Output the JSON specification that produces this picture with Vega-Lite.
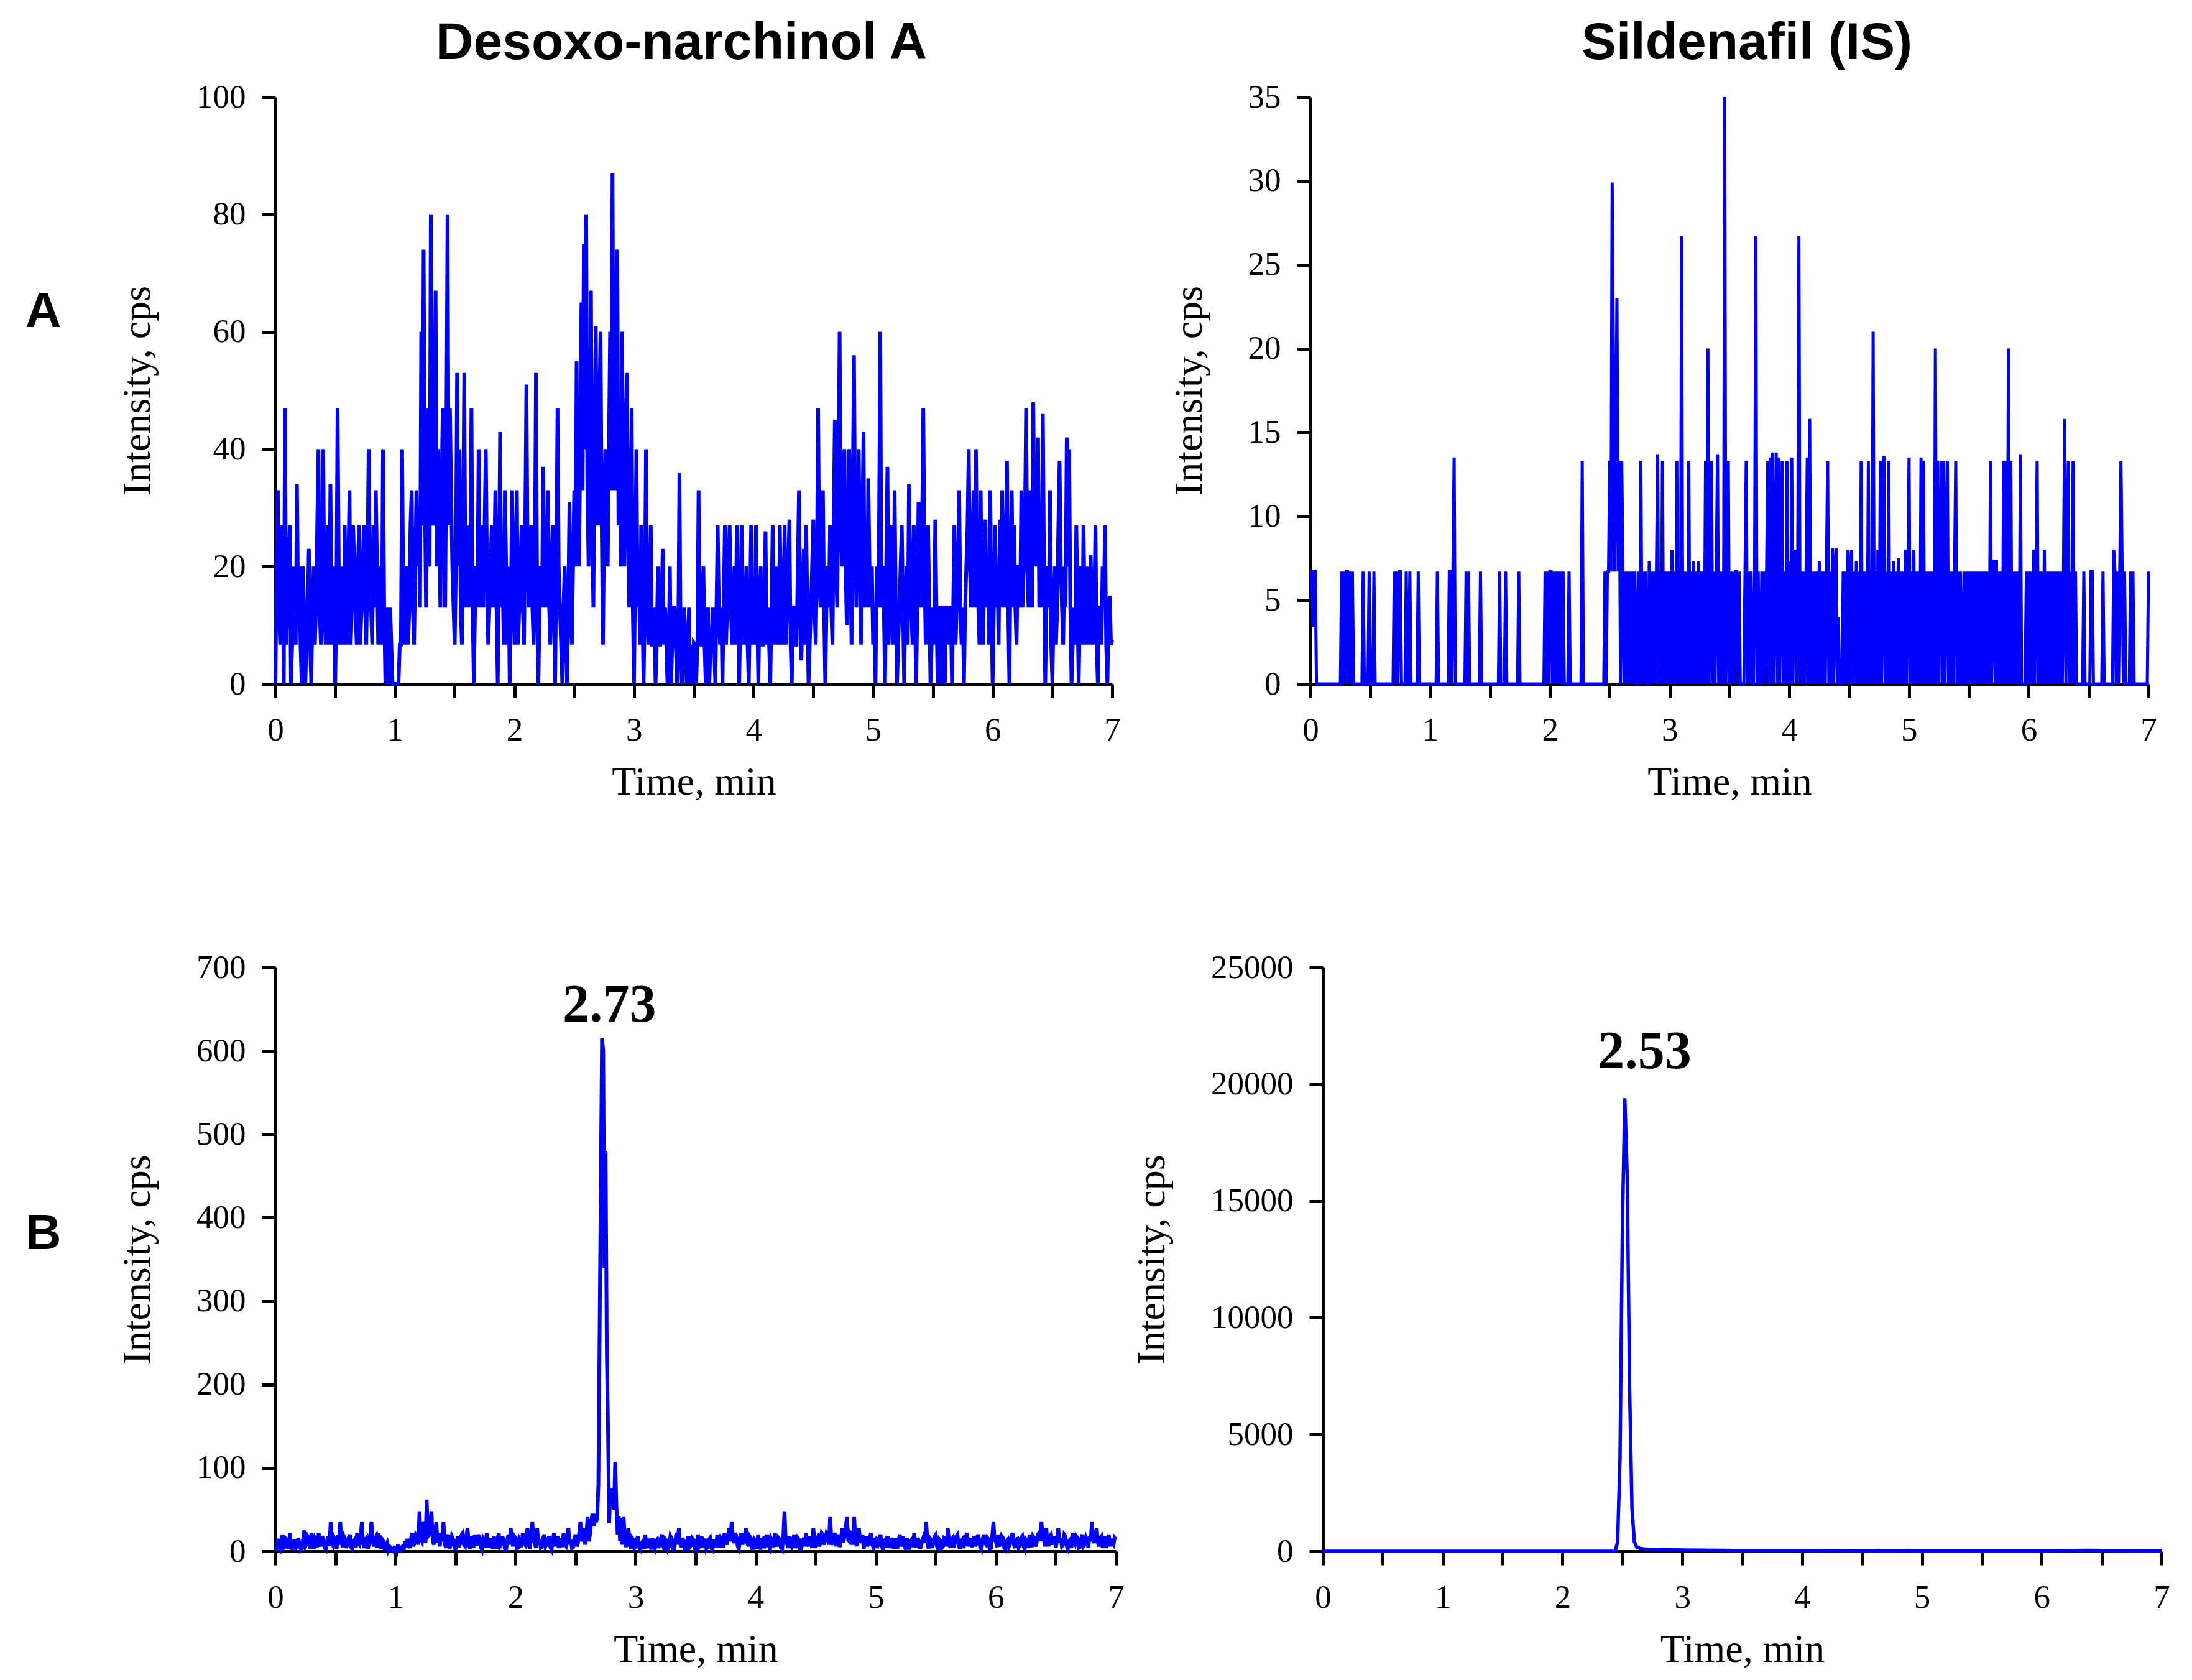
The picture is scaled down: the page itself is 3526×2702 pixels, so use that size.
{
  "$schema": "https://vega.github.io/schema/vega-lite/v6.json",
  "background": "white",
  "padding": {"left": 40, "top": 28, "right": 10, "bottom": 10},
  "config": {
    "view": {"stroke": null},
    "axis": {
      "grid": false,
      "domainColor": "black",
      "domainWidth": 5,
      "tickColor": "black",
      "tickWidth": 5,
      "tickSize": 22,
      "labelFont": "Liberation Serif",
      "labelFontSize": 53,
      "labelColor": "black",
      "labelFlush": false,
      "labelOverlap": false,
      "titleFont": "Liberation Serif",
      "titleFontSize": 64,
      "titleFontWeight": "normal",
      "titleColor": "black"
    },
    "axisX": {"labelPadding": 26, "titlePadding": 25, "labelAngle": 0, "format": "d"},
    "axisY": {"labelPadding": 26, "titlePadding": 62},
    "title": {"font": "Liberation Sans", "fontWeight": "bold", "fontSize": 84, "color": "black", "offset": 17}
  },
  "datasets": {
    "a1": [
      {"t":0,"y":0},{"t":0.01,"y":20},{"t":0.02,"y":33},{"t":0.03,"y":13},{"t":0.04,"y":6.7},{"t":0.05,"y":27},{"t":0.06,"y":20},{"t":0.07,"y":0},{"t":0.08,"y":47},{"t":0.09,"y":6.7},
      {"t":0.1,"y":13},{"t":0.11,"y":20},{"t":0.12,"y":27},{"t":0.13,"y":0},{"t":0.14,"y":6.7},{"t":0.15,"y":20},{"t":0.16,"y":13},{"t":0.17,"y":6.7},{"t":0.18,"y":34},{"t":0.19,"y":13},
      {"t":0.2,"y":20},{"t":0.21,"y":6.7},{"t":0.22,"y":0},{"t":0.23,"y":20},{"t":0.24,"y":13},{"t":0.25,"y":0},{"t":0.26,"y":6.7},{"t":0.27,"y":13},{"t":0.28,"y":23},{"t":0.29,"y":6.7},
      {"t":0.3,"y":0},{"t":0.31,"y":13},{"t":0.32,"y":20},{"t":0.33,"y":6.7},{"t":0.34,"y":13},{"t":0.35,"y":27},{"t":0.36,"y":40},{"t":0.37,"y":13},{"t":0.38,"y":6.7},{"t":0.39,"y":20},
      {"t":0.4,"y":40},{"t":0.41,"y":13},{"t":0.42,"y":6.7},{"t":0.43,"y":20},{"t":0.44,"y":27},{"t":0.45,"y":6.7},{"t":0.46,"y":34},{"t":0.47,"y":13},{"t":0.48,"y":6.7},{"t":0.49,"y":20},
      {"t":0.5,"y":0},{"t":0.51,"y":13},{"t":0.52,"y":47},{"t":0.53,"y":20},{"t":0.54,"y":6.7},{"t":0.55,"y":13},{"t":0.56,"y":20},{"t":0.57,"y":6.7},{"t":0.58,"y":27},{"t":0.59,"y":13},
      {"t":0.6,"y":6.7},{"t":0.61,"y":20},{"t":0.62,"y":33},{"t":0.63,"y":6.7},{"t":0.64,"y":13},{"t":0.65,"y":27},{"t":0.66,"y":20},{"t":0.67,"y":13},{"t":0.68,"y":6.7},{"t":0.69,"y":20},
      {"t":0.7,"y":27},{"t":0.71,"y":6.7},{"t":0.72,"y":13},{"t":0.73,"y":20},{"t":0.74,"y":27},{"t":0.75,"y":13},{"t":0.76,"y":6.7},{"t":0.77,"y":20},{"t":0.78,"y":40},{"t":0.79,"y":20},
      {"t":0.8,"y":13},{"t":0.81,"y":6.7},{"t":0.82,"y":27},{"t":0.83,"y":13},{"t":0.84,"y":33},{"t":0.85,"y":20},{"t":0.86,"y":6.7},{"t":0.87,"y":13},{"t":0.88,"y":20},{"t":0.89,"y":6.7},
      {"t":0.9,"y":40},{"t":0.91,"y":13},{"t":0.92,"y":0},{"t":0.93,"y":6.7},{"t":0.94,"y":13},{"t":0.95,"y":0},{"t":0.96,"y":13},{"t":0.97,"y":6.7},{"t":0.98,"y":0},{"t":0.99,"y":0},
      {"t":1,"y":0},{"t":1.01,"y":0},{"t":1.02,"y":0},{"t":1.03,"y":0},{"t":1.04,"y":6.7},{"t":1.05,"y":6.7},{"t":1.06,"y":40},{"t":1.07,"y":13},{"t":1.08,"y":6.7},{"t":1.09,"y":13},
      {"t":1.1,"y":20},{"t":1.11,"y":6.7},{"t":1.12,"y":13},{"t":1.13,"y":27},{"t":1.14,"y":33},{"t":1.15,"y":13},{"t":1.16,"y":6.7},{"t":1.17,"y":20},{"t":1.18,"y":33},{"t":1.19,"y":20},
      {"t":1.2,"y":27},{"t":1.21,"y":13},{"t":1.22,"y":60},{"t":1.23,"y":27},{"t":1.24,"y":74},{"t":1.25,"y":33},{"t":1.26,"y":13},{"t":1.27,"y":27},{"t":1.28,"y":47},{"t":1.29,"y":20},
      {"t":1.3,"y":80},{"t":1.31,"y":40},{"t":1.32,"y":27},{"t":1.33,"y":47},{"t":1.34,"y":67},{"t":1.35,"y":20},{"t":1.36,"y":40},{"t":1.37,"y":27},{"t":1.38,"y":13},{"t":1.39,"y":33},
      {"t":1.4,"y":47},{"t":1.41,"y":27},{"t":1.42,"y":13},{"t":1.43,"y":40},{"t":1.44,"y":80},{"t":1.45,"y":27},{"t":1.46,"y":47},{"t":1.47,"y":33},{"t":1.48,"y":20},{"t":1.49,"y":13},
      {"t":1.5,"y":6.7},{"t":1.51,"y":20},{"t":1.52,"y":53},{"t":1.53,"y":20},{"t":1.54,"y":40},{"t":1.55,"y":13},{"t":1.56,"y":6.7},{"t":1.57,"y":27},{"t":1.58,"y":53},{"t":1.59,"y":13},
      {"t":1.6,"y":27},{"t":1.61,"y":20},{"t":1.62,"y":13},{"t":1.63,"y":20},{"t":1.64,"y":47},{"t":1.65,"y":13},{"t":1.66,"y":0},{"t":1.67,"y":13},{"t":1.68,"y":20},{"t":1.69,"y":13},
      {"t":1.7,"y":40},{"t":1.71,"y":13},{"t":1.72,"y":27},{"t":1.73,"y":20},{"t":1.74,"y":13},{"t":1.75,"y":27},{"t":1.76,"y":40},{"t":1.77,"y":20},{"t":1.78,"y":6.7},{"t":1.79,"y":13},
      {"t":1.8,"y":20},{"t":1.81,"y":27},{"t":1.82,"y":13},{"t":1.83,"y":20},{"t":1.84,"y":33},{"t":1.85,"y":13},{"t":1.86,"y":0},{"t":1.87,"y":20},{"t":1.88,"y":43},{"t":1.89,"y":13},
      {"t":1.9,"y":20},{"t":1.91,"y":6.7},{"t":1.92,"y":33},{"t":1.93,"y":20},{"t":1.94,"y":6.7},{"t":1.95,"y":20},{"t":1.96,"y":0},{"t":1.97,"y":13},{"t":1.98,"y":33},{"t":1.99,"y":20},
      {"t":2,"y":6.7},{"t":2.01,"y":20},{"t":2.02,"y":33},{"t":2.03,"y":6.7},{"t":2.04,"y":13},{"t":2.05,"y":20},{"t":2.06,"y":27},{"t":2.07,"y":13},{"t":2.08,"y":6.7},{"t":2.09,"y":27},
      {"t":2.1,"y":51},{"t":2.11,"y":20},{"t":2.12,"y":13},{"t":2.13,"y":20},{"t":2.14,"y":27},{"t":2.15,"y":13},{"t":2.16,"y":6.7},{"t":2.17,"y":20},{"t":2.18,"y":53},{"t":2.19,"y":13},
      {"t":2.2,"y":0},{"t":2.21,"y":13},{"t":2.22,"y":20},{"t":2.23,"y":13},{"t":2.24,"y":37},{"t":2.25,"y":20},{"t":2.26,"y":13},{"t":2.27,"y":20},{"t":2.28,"y":33},{"t":2.29,"y":13},
      {"t":2.3,"y":6.7},{"t":2.31,"y":20},{"t":2.32,"y":27},{"t":2.33,"y":13},{"t":2.34,"y":0},{"t":2.35,"y":20},{"t":2.36,"y":47},{"t":2.37,"y":20},{"t":2.38,"y":13},{"t":2.39,"y":6.7},
      {"t":2.4,"y":0},{"t":2.41,"y":13},{"t":2.42,"y":20},{"t":2.43,"y":6.7},{"t":2.44,"y":0},{"t":2.45,"y":13},{"t":2.46,"y":31},{"t":2.47,"y":13},{"t":2.48,"y":6.7},{"t":2.49,"y":20},
      {"t":2.5,"y":33},{"t":2.51,"y":20},{"t":2.52,"y":55},{"t":2.53,"y":27},{"t":2.54,"y":20},{"t":2.55,"y":40},{"t":2.56,"y":65},{"t":2.57,"y":33},{"t":2.58,"y":75},{"t":2.59,"y":40},
      {"t":2.6,"y":80},{"t":2.61,"y":33},{"t":2.62,"y":20},{"t":2.63,"y":40},{"t":2.64,"y":67},{"t":2.65,"y":27},{"t":2.66,"y":13},{"t":2.67,"y":40},{"t":2.68,"y":61},{"t":2.69,"y":33},
      {"t":2.7,"y":27},{"t":2.71,"y":47},{"t":2.72,"y":60},{"t":2.73,"y":27},{"t":2.74,"y":6.7},{"t":2.75,"y":27},{"t":2.76,"y":40},{"t":2.77,"y":33},{"t":2.78,"y":20},{"t":2.79,"y":40},
      {"t":2.8,"y":60},{"t":2.81,"y":33},{"t":2.82,"y":87},{"t":2.83,"y":40},{"t":2.84,"y":33},{"t":2.85,"y":53},{"t":2.86,"y":74},{"t":2.87,"y":27},{"t":2.88,"y":40},{"t":2.89,"y":20},
      {"t":2.9,"y":60},{"t":2.91,"y":33},{"t":2.92,"y":20},{"t":2.93,"y":40},{"t":2.94,"y":53},{"t":2.95,"y":27},{"t":2.96,"y":13},{"t":2.97,"y":27},{"t":2.98,"y":47},{"t":2.99,"y":13},
      {"t":3,"y":0},{"t":3.01,"y":20},{"t":3.02,"y":40},{"t":3.03,"y":13},{"t":3.04,"y":20},{"t":3.05,"y":6.7},{"t":3.06,"y":27},{"t":3.07,"y":13},{"t":3.08,"y":0},{"t":3.09,"y":13},
      {"t":3.1,"y":40},{"t":3.11,"y":13},{"t":3.12,"y":6.7},{"t":3.13,"y":13},{"t":3.14,"y":27},{"t":3.15,"y":6.7},{"t":3.16,"y":6.7},{"t":3.17,"y":13},{"t":3.18,"y":0},{"t":3.19,"y":6.7},
      {"t":3.2,"y":20},{"t":3.21,"y":6.7},{"t":3.22,"y":6.7},{"t":3.23,"y":13},{"t":3.24,"y":23},{"t":3.25,"y":6.7},{"t":3.26,"y":13},{"t":3.27,"y":6.7},{"t":3.28,"y":0},{"t":3.29,"y":6.7},
      {"t":3.3,"y":20},{"t":3.31,"y":0},{"t":3.32,"y":6.7},{"t":3.33,"y":13},{"t":3.34,"y":13},{"t":3.35,"y":6.7},{"t":3.36,"y":0},{"t":3.37,"y":6.7},{"t":3.38,"y":36},{"t":3.39,"y":6.7},
      {"t":3.4,"y":0},{"t":3.41,"y":6.7},{"t":3.42,"y":13},{"t":3.43,"y":6.7},{"t":3.44,"y":0},{"t":3.45,"y":6.7},{"t":3.46,"y":13},{"t":3.47,"y":0},{"t":3.48,"y":6.7},{"t":3.49,"y":0},
      {"t":3.5,"y":7},{"t":3.51,"y":6.7},{"t":3.52,"y":0},{"t":3.53,"y":6.7},{"t":3.54,"y":33},{"t":3.55,"y":6.7},{"t":3.56,"y":6.7},{"t":3.57,"y":13},{"t":3.58,"y":20},{"t":3.59,"y":6.7},
      {"t":3.6,"y":0},{"t":3.61,"y":6.7},{"t":3.62,"y":13},{"t":3.63,"y":0},{"t":3.64,"y":6.7},{"t":3.65,"y":6.7},{"t":3.66,"y":13},{"t":3.67,"y":6.7},{"t":3.68,"y":0},{"t":3.69,"y":13},
      {"t":3.7,"y":27},{"t":3.71,"y":13},{"t":3.72,"y":6.7},{"t":3.73,"y":13},{"t":3.74,"y":0},{"t":3.75,"y":13},{"t":3.76,"y":27},{"t":3.77,"y":6.7},{"t":3.78,"y":13},{"t":3.79,"y":20},
      {"t":3.8,"y":27},{"t":3.81,"y":13},{"t":3.82,"y":6.7},{"t":3.83,"y":13},{"t":3.84,"y":20},{"t":3.85,"y":6.7},{"t":3.86,"y":27},{"t":3.87,"y":13},{"t":3.88,"y":0},{"t":3.89,"y":13},
      {"t":3.9,"y":27},{"t":3.91,"y":13},{"t":3.92,"y":6.7},{"t":3.93,"y":13},{"t":3.94,"y":20},{"t":3.95,"y":6.7},{"t":3.96,"y":0},{"t":3.97,"y":13},{"t":3.98,"y":27},{"t":3.99,"y":6.7},
      {"t":4,"y":13},{"t":4.01,"y":6.7},{"t":4.02,"y":27},{"t":4.03,"y":13},{"t":4.04,"y":0},{"t":4.05,"y":13},{"t":4.06,"y":20},{"t":4.07,"y":6.7},{"t":4.08,"y":6.7},{"t":4.09,"y":13},
      {"t":4.1,"y":26},{"t":4.11,"y":6.7},{"t":4.12,"y":13},{"t":4.13,"y":6.7},{"t":4.14,"y":0},{"t":4.15,"y":13},{"t":4.16,"y":27},{"t":4.17,"y":13},{"t":4.18,"y":6.7},{"t":4.19,"y":20},
      {"t":4.2,"y":13},{"t":4.21,"y":6.7},{"t":4.22,"y":27},{"t":4.23,"y":13},{"t":4.24,"y":6.7},{"t":4.25,"y":13},{"t":4.26,"y":27},{"t":4.27,"y":6.7},{"t":4.28,"y":13},{"t":4.29,"y":20},
      {"t":4.3,"y":28},{"t":4.31,"y":6.7},{"t":4.32,"y":0},{"t":4.33,"y":13},{"t":4.34,"y":13},{"t":4.35,"y":6.7},{"t":4.36,"y":6.7},{"t":4.37,"y":20},{"t":4.38,"y":33},{"t":4.39,"y":13},
      {"t":4.4,"y":4},{"t":4.41,"y":13},{"t":4.42,"y":23},{"t":4.43,"y":6.7},{"t":4.44,"y":27},{"t":4.45,"y":13},{"t":4.46,"y":0},{"t":4.47,"y":6.7},{"t":4.48,"y":13},{"t":4.49,"y":20},
      {"t":4.5,"y":28},{"t":4.51,"y":13},{"t":4.52,"y":6.7},{"t":4.53,"y":20},{"t":4.54,"y":47},{"t":4.55,"y":20},{"t":4.56,"y":13},{"t":4.57,"y":20},{"t":4.58,"y":33},{"t":4.59,"y":13},
      {"t":4.6,"y":0},{"t":4.61,"y":13},{"t":4.62,"y":20},{"t":4.63,"y":13},{"t":4.64,"y":27},{"t":4.65,"y":13},{"t":4.66,"y":6.7},{"t":4.67,"y":27},{"t":4.68,"y":45},{"t":4.69,"y":20},
      {"t":4.7,"y":13},{"t":4.71,"y":33},{"t":4.72,"y":60},{"t":4.73,"y":27},{"t":4.74,"y":20},{"t":4.75,"y":33},{"t":4.76,"y":40},{"t":4.77,"y":20},{"t":4.78,"y":10},{"t":4.79,"y":27},
      {"t":4.8,"y":40},{"t":4.81,"y":20},{"t":4.82,"y":6.7},{"t":4.83,"y":33},{"t":4.84,"y":56},{"t":4.85,"y":27},{"t":4.86,"y":13},{"t":4.87,"y":27},{"t":4.88,"y":40},{"t":4.89,"y":20},
      {"t":4.9,"y":6.7},{"t":4.91,"y":27},{"t":4.92,"y":43},{"t":4.93,"y":13},{"t":4.94,"y":20},{"t":4.95,"y":13},{"t":4.96,"y":35},{"t":4.97,"y":20},{"t":4.98,"y":13},{"t":4.99,"y":20},
      {"t":5,"y":6.7},{"t":5.01,"y":13},{"t":5.02,"y":0},{"t":5.03,"y":20},{"t":5.04,"y":13},{"t":5.05,"y":27},{"t":5.06,"y":60},{"t":5.07,"y":13},{"t":5.08,"y":20},{"t":5.09,"y":13},
      {"t":5.1,"y":0},{"t":5.11,"y":20},{"t":5.12,"y":37},{"t":5.13,"y":6.7},{"t":5.14,"y":13},{"t":5.15,"y":27},{"t":5.16,"y":20},{"t":5.17,"y":6.7},{"t":5.18,"y":33},{"t":5.19,"y":13},
      {"t":5.2,"y":0},{"t":5.21,"y":6.7},{"t":5.22,"y":13},{"t":5.23,"y":20},{"t":5.24,"y":27},{"t":5.25,"y":13},{"t":5.26,"y":0},{"t":5.27,"y":13},{"t":5.28,"y":20},{"t":5.29,"y":6.7},
      {"t":5.3,"y":34},{"t":5.31,"y":20},{"t":5.32,"y":13},{"t":5.33,"y":6.7},{"t":5.34,"y":27},{"t":5.35,"y":13},{"t":5.36,"y":0},{"t":5.37,"y":13},{"t":5.38,"y":31},{"t":5.39,"y":20},
      {"t":5.4,"y":13},{"t":5.41,"y":27},{"t":5.42,"y":47},{"t":5.43,"y":20},{"t":5.44,"y":6.7},{"t":5.45,"y":13},{"t":5.46,"y":27},{"t":5.47,"y":13},{"t":5.48,"y":0},{"t":5.49,"y":6.7},
      {"t":5.5,"y":13},{"t":5.51,"y":6.7},{"t":5.52,"y":28},{"t":5.53,"y":13},{"t":5.54,"y":0},{"t":5.55,"y":13},{"t":5.56,"y":13},{"t":5.57,"y":0},{"t":5.58,"y":13},{"t":5.59,"y":13},
      {"t":5.6,"y":0},{"t":5.61,"y":13},{"t":5.62,"y":13},{"t":5.63,"y":6.7},{"t":5.64,"y":13},{"t":5.65,"y":13},{"t":5.66,"y":0},{"t":5.67,"y":13},{"t":5.68,"y":27},{"t":5.69,"y":6.7},
      {"t":5.7,"y":13},{"t":5.71,"y":20},{"t":5.72,"y":33},{"t":5.73,"y":13},{"t":5.74,"y":6.7},{"t":5.75,"y":13},{"t":5.76,"y":0},{"t":5.77,"y":13},{"t":5.78,"y":20},{"t":5.79,"y":27},
      {"t":5.8,"y":40},{"t":5.81,"y":20},{"t":5.82,"y":13},{"t":5.83,"y":20},{"t":5.84,"y":33},{"t":5.85,"y":13},{"t":5.86,"y":40},{"t":5.87,"y":20},{"t":5.88,"y":13},{"t":5.89,"y":6.7},
      {"t":5.9,"y":33},{"t":5.91,"y":13},{"t":5.92,"y":6.7},{"t":5.93,"y":20},{"t":5.94,"y":28},{"t":5.95,"y":13},{"t":5.96,"y":20},{"t":5.97,"y":6.7},{"t":5.98,"y":33},{"t":5.99,"y":13},
      {"t":6,"y":0},{"t":6.01,"y":13},{"t":6.02,"y":27},{"t":6.03,"y":13},{"t":6.04,"y":20},{"t":6.05,"y":6.7},{"t":6.06,"y":28},{"t":6.07,"y":13},{"t":6.08,"y":33},{"t":6.09,"y":20},
      {"t":6.1,"y":13},{"t":6.11,"y":20},{"t":6.12,"y":38},{"t":6.13,"y":13},{"t":6.14,"y":0},{"t":6.15,"y":20},{"t":6.16,"y":33},{"t":6.17,"y":13},{"t":6.18,"y":27},{"t":6.19,"y":13},
      {"t":6.2,"y":6.7},{"t":6.21,"y":20},{"t":6.22,"y":20},{"t":6.23,"y":13},{"t":6.24,"y":33},{"t":6.25,"y":13},{"t":6.26,"y":20},{"t":6.27,"y":27},{"t":6.28,"y":47},{"t":6.29,"y":20},
      {"t":6.3,"y":13},{"t":6.31,"y":33},{"t":6.32,"y":27},{"t":6.33,"y":13},{"t":6.34,"y":48},{"t":6.35,"y":27},{"t":6.36,"y":20},{"t":6.37,"y":27},{"t":6.38,"y":42},{"t":6.39,"y":13},
      {"t":6.4,"y":27},{"t":6.41,"y":13},{"t":6.42,"y":46},{"t":6.43,"y":20},{"t":6.44,"y":0},{"t":6.45,"y":13},{"t":6.46,"y":20},{"t":6.47,"y":13},{"t":6.48,"y":33},{"t":6.49,"y":6.7},
      {"t":6.5,"y":0},{"t":6.51,"y":13},{"t":6.52,"y":20},{"t":6.53,"y":6.7},{"t":6.54,"y":13},{"t":6.55,"y":27},{"t":6.56,"y":38},{"t":6.57,"y":20},{"t":6.58,"y":13},{"t":6.59,"y":6.7},
      {"t":6.6,"y":20},{"t":6.61,"y":13},{"t":6.62,"y":42},{"t":6.63,"y":20},{"t":6.64,"y":40},{"t":6.65,"y":13},{"t":6.66,"y":0},{"t":6.67,"y":6.7},{"t":6.68,"y":13},{"t":6.69,"y":6.7},
      {"t":6.7,"y":27},{"t":6.71,"y":13},{"t":6.72,"y":0},{"t":6.73,"y":13},{"t":6.74,"y":20},{"t":6.75,"y":6.7},{"t":6.76,"y":27},{"t":6.77,"y":13},{"t":6.78,"y":6.7},{"t":6.79,"y":20},
      {"t":6.8,"y":13},{"t":6.81,"y":6.7},{"t":6.82,"y":22},{"t":6.83,"y":13},{"t":6.84,"y":6.7},{"t":6.85,"y":13},{"t":6.86,"y":27},{"t":6.87,"y":6.7},{"t":6.88,"y":0},{"t":6.89,"y":13},
      {"t":6.9,"y":13},{"t":6.91,"y":6.7},{"t":6.92,"y":20},{"t":6.93,"y":13},{"t":6.94,"y":27},{"t":6.95,"y":6.7},{"t":6.96,"y":0},{"t":6.97,"y":13},{"t":6.98,"y":15},{"t":6.99,"y":6.7},
      {"t":7,"y":7.5}
    ],
    "a2": [
      {"t":0,"y":6.7},{"t":0.01,"y":6.7},{"t":0.02,"y":3.4},{"t":0.03,"y":6.7},{"t":0.04,"y":6.7},{"t":0.05,"y":0},{"t":0.25,"y":0},{"t":0.26,"y":6.7},{"t":0.27,"y":0},{"t":0.28,"y":6.7},
      {"t":0.29,"y":0},{"t":0.3,"y":6.7},{"t":0.31,"y":6.7},{"t":0.32,"y":0},{"t":0.33,"y":6.7},{"t":0.34,"y":0},{"t":0.35,"y":6.7},{"t":0.36,"y":0},{"t":0.43,"y":0},{"t":0.44,"y":6.7},
      {"t":0.45,"y":0},{"t":0.48,"y":0},{"t":0.49,"y":6.7},{"t":0.5,"y":0},{"t":0.52,"y":0},{"t":0.53,"y":6.7},{"t":0.54,"y":0},{"t":0.69,"y":0},{"t":0.7,"y":6.7},{"t":0.71,"y":0},
      {"t":0.72,"y":6.7},{"t":0.73,"y":0},{"t":0.74,"y":6.7},{"t":0.75,"y":6.7},{"t":0.76,"y":0},{"t":0.79,"y":0},{"t":0.8,"y":6.7},{"t":0.81,"y":0},{"t":0.82,"y":0},{"t":0.83,"y":6.7},
      {"t":0.84,"y":0},{"t":0.89,"y":0},{"t":0.9,"y":6.7},{"t":0.91,"y":0},{"t":1.05,"y":0},{"t":1.06,"y":6.7},{"t":1.07,"y":0},{"t":1.15,"y":0},{"t":1.16,"y":6.7},{"t":1.17,"y":6.7},
      {"t":1.18,"y":0},{"t":1.19,"y":6.7},{"t":1.2,"y":13.5},{"t":1.21,"y":0},{"t":1.29,"y":0},{"t":1.3,"y":6.7},{"t":1.31,"y":0},{"t":1.32,"y":6.7},{"t":1.33,"y":0},{"t":1.41,"y":0},
      {"t":1.42,"y":6.7},{"t":1.43,"y":0},{"t":1.57,"y":0},{"t":1.58,"y":6.7},{"t":1.59,"y":0},{"t":1.62,"y":0},{"t":1.63,"y":6.7},{"t":1.64,"y":0},{"t":1.73,"y":0},{"t":1.74,"y":6.7},
      {"t":1.75,"y":0},{"t":1.95,"y":0},{"t":1.96,"y":6.7},{"t":1.97,"y":0},{"t":1.98,"y":6.7},{"t":1.99,"y":0},{"t":2,"y":6.7},{"t":2.01,"y":6.7},{"t":2.02,"y":0},{"t":2.03,"y":6.7},
      {"t":2.04,"y":0},{"t":2.05,"y":6.7},{"t":2.06,"y":0},{"t":2.07,"y":6.7},{"t":2.08,"y":0},{"t":2.09,"y":6.7},{"t":2.1,"y":0},{"t":2.11,"y":6.7},{"t":2.12,"y":0},{"t":2.15,"y":0},
      {"t":2.16,"y":6.7},{"t":2.17,"y":0},{"t":2.26,"y":0},{"t":2.27,"y":13.3},{"t":2.28,"y":0},{"t":2.45,"y":0},
      {"t":2.46,"y":6.7},{"t":2.47,"y":0},{"t":2.48,"y":6.7},{"t":2.49,"y":6.7},{"t":2.5,"y":13.3},{"t":2.51,"y":6.7},{"t":2.52,"y":29.9},{"t":2.53,"y":20},{"t":2.54,"y":6.7},{"t":2.55,"y":13.3},
      {"t":2.56,"y":23},{"t":2.57,"y":6.7},{"t":2.58,"y":13.3},{"t":2.59,"y":0},{"t":2.6,"y":13.3},{"t":2.61,"y":6.7},{"t":2.62,"y":0},{"t":2.63,"y":6.7},{"t":2.64,"y":0},{"t":2.65,"y":6.7},
      {"t":2.66,"y":0},{"t":2.67,"y":6.7},{"t":2.68,"y":0},{"t":2.69,"y":6.7},{"t":2.7,"y":0},{"t":2.71,"y":6.7},{"t":2.72,"y":0},{"t":2.73,"y":0},{"t":2.74,"y":6.7},{"t":2.75,"y":0},
      {"t":2.76,"y":13.3},{"t":2.77,"y":0},{"t":2.78,"y":6.7},{"t":2.79,"y":0},{"t":2.8,"y":6.7},{"t":2.81,"y":0},{"t":2.82,"y":0},{"t":2.83,"y":7.3},{"t":2.84,"y":0},{"t":2.85,"y":6.7},
      {"t":2.86,"y":0},{"t":2.87,"y":6.7},{"t":2.88,"y":0},{"t":2.89,"y":6.7},{"t":2.9,"y":13.7},{"t":2.91,"y":0},{"t":2.92,"y":6.7},{"t":2.93,"y":0},{"t":2.94,"y":13.3},{"t":2.95,"y":0},
      {"t":2.96,"y":6.7},{"t":2.97,"y":0},{"t":2.98,"y":6.7},{"t":2.99,"y":0},{"t":3,"y":6.7},{"t":3.01,"y":0},{"t":3.02,"y":8},{"t":3.03,"y":0},{"t":3.04,"y":6.7},{"t":3.05,"y":0},
      {"t":3.06,"y":13.3},{"t":3.07,"y":0},{"t":3.08,"y":6.7},{"t":3.09,"y":0},{"t":3.1,"y":26.7},{"t":3.11,"y":0},{"t":3.12,"y":6.7},{"t":3.13,"y":0},{"t":3.14,"y":6.7},{"t":3.15,"y":0},
      {"t":3.16,"y":13.3},{"t":3.17,"y":0},{"t":3.18,"y":6.7},{"t":3.19,"y":0},{"t":3.2,"y":7.3},{"t":3.21,"y":0},{"t":3.22,"y":6.7},{"t":3.23,"y":0},{"t":3.24,"y":7.3},{"t":3.25,"y":0},
      {"t":3.26,"y":6.7},{"t":3.27,"y":0},{"t":3.28,"y":6.7},{"t":3.29,"y":0},{"t":3.3,"y":13.3},{"t":3.31,"y":0},{"t":3.32,"y":20},{"t":3.33,"y":0},{"t":3.34,"y":6.7},{"t":3.35,"y":13.3},
      {"t":3.36,"y":0},{"t":3.37,"y":6.7},{"t":3.38,"y":0},{"t":3.39,"y":6.7},{"t":3.4,"y":13.7},{"t":3.41,"y":0},{"t":3.42,"y":6.7},{"t":3.43,"y":0},{"t":3.44,"y":6.7},{"t":3.45,"y":0},
      {"t":3.46,"y":35},{"t":3.47,"y":0},{"t":3.48,"y":6.7},{"t":3.49,"y":13.3},{"t":3.5,"y":0},{"t":3.51,"y":6.7},{"t":3.52,"y":0},{"t":3.53,"y":6.7},{"t":3.54,"y":0},{"t":3.55,"y":6.7},
      {"t":3.56,"y":6.7},{"t":3.57,"y":0},{"t":3.58,"y":6.7},{"t":3.59,"y":0},{"t":3.6,"y":0},{"t":3.61,"y":0},{"t":3.62,"y":0},{"t":3.63,"y":6.7},{"t":3.64,"y":13.3},{"t":3.65,"y":0},
      {"t":3.66,"y":6.7},{"t":3.67,"y":0},{"t":3.68,"y":6.7},{"t":3.69,"y":0},{"t":3.7,"y":0},{"t":3.71,"y":6.7},{"t":3.72,"y":26.7},{"t":3.73,"y":0},{"t":3.74,"y":6.7},{"t":3.75,"y":0},
      {"t":3.76,"y":0},{"t":3.77,"y":6.7},{"t":3.78,"y":0},{"t":3.79,"y":6.7},{"t":3.8,"y":0},{"t":3.81,"y":6.7},{"t":3.82,"y":13.3},{"t":3.83,"y":0},{"t":3.84,"y":13.5},{"t":3.85,"y":0},
      {"t":3.86,"y":13.8},{"t":3.87,"y":0},{"t":3.88,"y":6.7},{"t":3.89,"y":13.8},{"t":3.9,"y":0},{"t":3.91,"y":13.5},{"t":3.92,"y":0},{"t":3.93,"y":6.7},{"t":3.94,"y":13.3},{"t":3.95,"y":0},
      {"t":3.96,"y":6.7},{"t":3.97,"y":0},{"t":3.98,"y":13.3},{"t":3.99,"y":0},{"t":4,"y":7.3},{"t":4.01,"y":0},{"t":4.02,"y":13.5},{"t":4.03,"y":0},{"t":4.04,"y":6.7},{"t":4.05,"y":8},
      {"t":4.06,"y":0},{"t":4.07,"y":6.7},{"t":4.08,"y":26.7},{"t":4.09,"y":0},{"t":4.1,"y":6.7},{"t":4.11,"y":0},{"t":4.12,"y":6.7},{"t":4.13,"y":0},{"t":4.14,"y":6.7},{"t":4.15,"y":13.5},
      {"t":4.16,"y":0},{"t":4.17,"y":15.8},{"t":4.18,"y":0},{"t":4.19,"y":6.7},{"t":4.2,"y":0},{"t":4.21,"y":6.7},{"t":4.22,"y":0},{"t":4.23,"y":6.7},{"t":4.24,"y":0},{"t":4.25,"y":7.3},
      {"t":4.26,"y":0},{"t":4.27,"y":6.7},{"t":4.28,"y":0},{"t":4.29,"y":6.7},{"t":4.3,"y":0},{"t":4.31,"y":6.7},{"t":4.32,"y":13.3},{"t":4.33,"y":0},{"t":4.34,"y":6.7},{"t":4.35,"y":0},
      {"t":4.36,"y":8.1},{"t":4.37,"y":0},{"t":4.38,"y":6.7},{"t":4.39,"y":8.1},{"t":4.4,"y":0},{"t":4.41,"y":4},{"t":4.42,"y":0},{"t":4.43,"y":0},{"t":4.44,"y":0},{"t":4.45,"y":6.7},
      {"t":4.46,"y":0},{"t":4.47,"y":6.7},{"t":4.48,"y":0},{"t":4.49,"y":8},{"t":4.5,"y":0},{"t":4.51,"y":6.7},{"t":4.52,"y":8},{"t":4.53,"y":0},{"t":4.54,"y":6.7},{"t":4.55,"y":0},
      {"t":4.56,"y":7.3},{"t":4.57,"y":0},{"t":4.58,"y":6.7},{"t":4.59,"y":0},{"t":4.6,"y":13.3},{"t":4.61,"y":0},{"t":4.62,"y":6.7},{"t":4.63,"y":0},{"t":4.64,"y":6.7},{"t":4.65,"y":0},
      {"t":4.66,"y":13.3},{"t":4.67,"y":0},{"t":4.68,"y":6.7},{"t":4.69,"y":0},{"t":4.7,"y":21},{"t":4.71,"y":0},{"t":4.72,"y":6.7},{"t":4.73,"y":0},{"t":4.74,"y":8},{"t":4.75,"y":0},
      {"t":4.76,"y":13.3},{"t":4.77,"y":0},{"t":4.78,"y":6.7},{"t":4.79,"y":13.6},{"t":4.8,"y":0},{"t":4.81,"y":6.7},{"t":4.82,"y":0},{"t":4.83,"y":13.3},{"t":4.84,"y":0},{"t":4.85,"y":6.7},
      {"t":4.86,"y":0},{"t":4.87,"y":7.3},{"t":4.88,"y":0},{"t":4.89,"y":6.7},{"t":4.9,"y":0},{"t":4.91,"y":7.5},{"t":4.92,"y":0},{"t":4.93,"y":6.7},{"t":4.94,"y":0},{"t":4.95,"y":6.7},
      {"t":4.96,"y":0},{"t":4.97,"y":8},{"t":4.98,"y":0},{"t":4.99,"y":6.7},{"t":5,"y":13.5},{"t":5.01,"y":0},{"t":5.02,"y":6.7},{"t":5.03,"y":0},{"t":5.04,"y":8},{"t":5.05,"y":0},
      {"t":5.06,"y":6.7},{"t":5.07,"y":0},{"t":5.08,"y":6.7},{"t":5.09,"y":0},{"t":5.1,"y":13.5},{"t":5.11,"y":0},{"t":5.12,"y":13.3},{"t":5.13,"y":0},{"t":5.14,"y":6.7},{"t":5.15,"y":0},
      {"t":5.16,"y":6.7},{"t":5.17,"y":0},{"t":5.18,"y":6.7},{"t":5.19,"y":0},{"t":5.2,"y":6.7},{"t":5.21,"y":0},{"t":5.22,"y":20},{"t":5.23,"y":0},{"t":5.24,"y":13.3},{"t":5.25,"y":0},
      {"t":5.26,"y":6.7},{"t":5.27,"y":13.3},{"t":5.28,"y":0},{"t":5.29,"y":13.3},{"t":5.3,"y":0},{"t":5.31,"y":6.7},{"t":5.32,"y":13.3},{"t":5.33,"y":0},{"t":5.34,"y":6.7},{"t":5.35,"y":0},
      {"t":5.36,"y":6.7},{"t":5.37,"y":0},{"t":5.38,"y":6.7},{"t":5.39,"y":13.3},{"t":5.4,"y":0},{"t":5.41,"y":6.7},{"t":5.42,"y":0},{"t":5.43,"y":6.7},{"t":5.44,"y":0},{"t":5.45,"y":0},
      {"t":5.46,"y":6.7},{"t":5.47,"y":0},{"t":5.48,"y":6.7},{"t":5.49,"y":0},{"t":5.5,"y":6.7},{"t":5.51,"y":0},{"t":5.52,"y":6.7},{"t":5.53,"y":0},{"t":5.54,"y":6.7},{"t":5.55,"y":0},
      {"t":5.56,"y":6.7},{"t":5.57,"y":0},{"t":5.58,"y":6.7},{"t":5.59,"y":0},{"t":5.6,"y":6.7},{"t":5.61,"y":0},{"t":5.62,"y":6.7},{"t":5.63,"y":0},{"t":5.64,"y":6.7},{"t":5.65,"y":0},
      {"t":5.66,"y":6.7},{"t":5.67,"y":0},{"t":5.68,"y":13.3},{"t":5.69,"y":0},{"t":5.7,"y":6.7},{"t":5.71,"y":7.4},{"t":5.72,"y":0},{"t":5.73,"y":7.4},{"t":5.74,"y":0},{"t":5.75,"y":6.7},
      {"t":5.76,"y":0},{"t":5.77,"y":6.7},{"t":5.78,"y":0},{"t":5.79,"y":13.3},{"t":5.8,"y":0},{"t":5.81,"y":13.3},{"t":5.82,"y":0},{"t":5.83,"y":20},{"t":5.84,"y":0},{"t":5.85,"y":13.3},
      {"t":5.86,"y":0},{"t":5.87,"y":6.7},{"t":5.88,"y":0},{"t":5.89,"y":6.7},{"t":5.9,"y":0},{"t":5.91,"y":6.7},{"t":5.92,"y":0},{"t":5.93,"y":13.7},{"t":5.94,"y":0},{"t":5.97,"y":0},
      {"t":5.98,"y":6.7},{"t":5.99,"y":0},{"t":6,"y":6.7},{"t":6.01,"y":0},{"t":6.02,"y":6.7},{"t":6.03,"y":0},{"t":6.04,"y":8},{"t":6.05,"y":0},{"t":6.06,"y":6.7},{"t":6.07,"y":13.3},
      {"t":6.08,"y":0},{"t":6.09,"y":6.7},{"t":6.1,"y":0},{"t":6.11,"y":6.7},{"t":6.12,"y":0},{"t":6.13,"y":8},{"t":6.14,"y":0},{"t":6.15,"y":6.7},{"t":6.16,"y":0},{"t":6.17,"y":6.7},
      {"t":6.18,"y":0},{"t":6.19,"y":6.7},{"t":6.2,"y":0},{"t":6.21,"y":6.7},{"t":6.22,"y":0},{"t":6.23,"y":6.7},{"t":6.24,"y":0},{"t":6.25,"y":6.7},{"t":6.26,"y":0},{"t":6.27,"y":6.7},
      {"t":6.28,"y":0},{"t":6.29,"y":6.7},{"t":6.3,"y":15.8},{"t":6.31,"y":0},{"t":6.32,"y":6.7},{"t":6.33,"y":13.3},{"t":6.34,"y":0},{"t":6.35,"y":6.7},{"t":6.36,"y":0},{"t":6.37,"y":13.3},
      {"t":6.38,"y":0},{"t":6.39,"y":6.7},{"t":6.4,"y":0},{"t":6.45,"y":0},{"t":6.46,"y":6.7},{"t":6.47,"y":0},{"t":6.51,"y":0},{"t":6.52,"y":6.7},{"t":6.53,"y":6.7},{"t":6.54,"y":0},
      {"t":6.61,"y":0},{"t":6.62,"y":6.7},{"t":6.63,"y":0},{"t":6.7,"y":0},{"t":6.71,"y":8},{"t":6.72,"y":6.7},{"t":6.73,"y":0},{"t":6.74,"y":6.7},{"t":6.75,"y":0},{"t":6.76,"y":6.7},
      {"t":6.77,"y":13.3},{"t":6.78,"y":6.7},{"t":6.79,"y":0},{"t":6.8,"y":6.7},{"t":6.81,"y":0},{"t":6.84,"y":0},{"t":6.85,"y":6.7},{"t":6.86,"y":0},{"t":6.87,"y":6.7},{"t":6.88,"y":0},
      {"t":6.99,"y":0},{"t":7,"y":6.7}
    ],
    "b1": [
      {"t":0,"y":8},{"t":0.01,"y":2},{"t":0.02,"y":15},{"t":0.03,"y":6},{"t":0.04,"y":3},{"t":0.05,"y":12},{"t":0.06,"y":20},{"t":0.07,"y":4},{"t":0.08,"y":5},{"t":0.09,"y":14},
      {"t":0.1,"y":12},{"t":0.11,"y":3},{"t":0.12,"y":22},{"t":0.13,"y":8},{"t":0.14,"y":2},{"t":0.15,"y":10},{"t":0.16,"y":14},{"t":0.17,"y":4},{"t":0.18,"y":6},{"t":0.19,"y":16},
      {"t":0.2,"y":10},{"t":0.21,"y":2},{"t":0.22,"y":4},{"t":0.23,"y":14},{"t":0.24,"y":25},{"t":0.25,"y":6},{"t":0.26,"y":9},{"t":0.27,"y":18},{"t":0.28,"y":16},{"t":0.29,"y":3},
      {"t":0.3,"y":22},{"t":0.31,"y":8},{"t":0.32,"y":3},{"t":0.33,"y":15},{"t":0.34,"y":12},{"t":0.35,"y":5},{"t":0.36,"y":22},{"t":0.37,"y":10},{"t":0.38,"y":6},{"t":0.39,"y":18},
      {"t":0.4,"y":14},{"t":0.41,"y":4},{"t":0.42,"y":2},{"t":0.43,"y":12},{"t":0.44,"y":18},{"t":0.45,"y":6},{"t":0.46,"y":35},{"t":0.47,"y":10},{"t":0.48,"y":7},{"t":0.49,"y":16},
      {"t":0.5,"y":13},{"t":0.51,"y":3},{"t":0.52,"y":20},{"t":0.53,"y":8},{"t":0.54,"y":35},{"t":0.55,"y":12},{"t":0.56,"y":5},{"t":0.57,"y":18},{"t":0.58,"y":15},{"t":0.59,"y":4},
      {"t":0.6,"y":9},{"t":0.61,"y":16},{"t":0.62,"y":20},{"t":0.63,"y":5},{"t":0.64,"y":3},{"t":0.65,"y":12},{"t":0.66,"y":14},{"t":0.67,"y":4},{"t":0.68,"y":22},{"t":0.69,"y":10},
      {"t":0.7,"y":8},{"t":0.71,"y":18},{"t":0.72,"y":35},{"t":0.73,"y":10},{"t":0.74,"y":4},{"t":0.75,"y":14},{"t":0.76,"y":16},{"t":0.77,"y":3},{"t":0.78,"y":10},{"t":0.79,"y":20},
      {"t":0.8,"y":35},{"t":0.81,"y":12},{"t":0.82,"y":6},{"t":0.83,"y":15},{"t":0.84,"y":18},{"t":0.85,"y":4},{"t":0.86,"y":22},{"t":0.87,"y":8},{"t":0.88,"y":3},{"t":0.89,"y":14},
      {"t":0.9,"y":12},{"t":0.91,"y":2},{"t":0.92,"y":7},{"t":0.93,"y":10},{"t":0.94,"y":2},{"t":0.95,"y":6},{"t":0.96,"y":5},{"t":0.97,"y":1},{"t":0.98,"y":0},{"t":0.99,"y":4},
      {"t":1,"y":3},{"t":1.01,"y":0},{"t":1.02,"y":8},{"t":1.03,"y":2},{"t":1.04,"y":1},{"t":1.05,"y":5},{"t":1.06,"y":6},{"t":1.07,"y":2},{"t":1.08,"y":12},{"t":1.09,"y":5},
      {"t":1.1,"y":15},{"t":1.11,"y":8},{"t":1.12,"y":4},{"t":1.13,"y":16},{"t":1.14,"y":22},{"t":1.15,"y":6},{"t":1.16,"y":10},{"t":1.17,"y":20},{"t":1.18,"y":18},{"t":1.19,"y":8},
      {"t":1.2,"y":48},{"t":1.21,"y":15},{"t":1.22,"y":12},{"t":1.23,"y":35},{"t":1.24,"y":30},{"t":1.25,"y":10},{"t":1.26,"y":62},{"t":1.27,"y":18},{"t":1.28,"y":20},{"t":1.29,"y":35},
      {"t":1.3,"y":48},{"t":1.31,"y":12},{"t":1.32,"y":8},{"t":1.33,"y":22},{"t":1.34,"y":35},{"t":1.35,"y":10},{"t":1.36,"y":14},{"t":1.37,"y":6},{"t":1.38,"y":22},{"t":1.39,"y":12},
      {"t":1.4,"y":35},{"t":1.41,"y":10},{"t":1.42,"y":4},{"t":1.43,"y":16},{"t":1.44,"y":20},{"t":1.45,"y":3},{"t":1.46,"y":8},{"t":1.47,"y":18},{"t":1.48,"y":15},{"t":1.49,"y":6},
      {"t":1.5,"y":2},{"t":1.51,"y":12},{"t":1.52,"y":18},{"t":1.53,"y":5},{"t":1.54,"y":10},{"t":1.55,"y":20},{"t":1.56,"y":22},{"t":1.57,"y":8},{"t":1.58,"y":6},{"t":1.59,"y":16},
      {"t":1.6,"y":28},{"t":1.61,"y":10},{"t":1.62,"y":3},{"t":1.63,"y":18},{"t":1.64,"y":14},{"t":1.65,"y":4},{"t":1.66,"y":20},{"t":1.67,"y":12},{"t":1.68,"y":7},{"t":1.69,"y":20},
      {"t":1.7,"y":16},{"t":1.71,"y":5},{"t":1.72,"y":2},{"t":1.73,"y":15},{"t":1.74,"y":12},{"t":1.75,"y":4},{"t":1.76,"y":22},{"t":1.77,"y":10},{"t":1.78,"y":5},{"t":1.79,"y":16},
      {"t":1.8,"y":10},{"t":1.81,"y":3},{"t":1.82,"y":18},{"t":1.83,"y":8},{"t":1.84,"y":3},{"t":1.85,"y":14},{"t":1.86,"y":22},{"t":1.87,"y":6},{"t":1.88,"y":9},{"t":1.89,"y":18},
      {"t":1.9,"y":14},{"t":1.91,"y":4},{"t":1.92,"y":0},{"t":1.93,"y":12},{"t":1.94,"y":20},{"t":1.95,"y":8},{"t":1.96,"y":28},{"t":1.97,"y":12},{"t":1.98,"y":6},{"t":1.99,"y":18},
      {"t":2,"y":16},{"t":2.01,"y":3},{"t":2.02,"y":4},{"t":2.03,"y":15},{"t":2.04,"y":12},{"t":2.05,"y":5},{"t":2.06,"y":22},{"t":2.07,"y":10},{"t":2.08,"y":8},{"t":2.09,"y":18},
      {"t":2.1,"y":28},{"t":2.11,"y":8},{"t":2.12,"y":3},{"t":2.13,"y":20},{"t":2.14,"y":35},{"t":2.15,"y":12},{"t":2.16,"y":10},{"t":2.17,"y":4},{"t":2.18,"y":28},{"t":2.19,"y":10},
      {"t":2.2,"y":14},{"t":2.21,"y":4},{"t":2.22,"y":5},{"t":2.23,"y":16},{"t":2.24,"y":20},{"t":2.25,"y":6},{"t":2.26,"y":9},{"t":2.27,"y":14},{"t":2.28,"y":18},{"t":2.29,"y":5},
      {"t":2.3,"y":2},{"t":2.31,"y":12},{"t":2.32,"y":22},{"t":2.33,"y":6},{"t":2.34,"y":12},{"t":2.35,"y":18},{"t":2.36,"y":4},{"t":2.37,"y":10},{"t":2.38,"y":16},{"t":2.39,"y":5},
      {"t":2.4,"y":22},{"t":2.41,"y":10},{"t":2.42,"y":7},{"t":2.43,"y":18},{"t":2.44,"y":28},{"t":2.45,"y":8},{"t":2.46,"y":14},{"t":2.47,"y":4},{"t":2.48,"y":5},{"t":2.49,"y":16},
      {"t":2.5,"y":20},{"t":2.51,"y":6},{"t":2.52,"y":10},{"t":2.53,"y":22},{"t":2.54,"y":35},{"t":2.55,"y":12},{"t":2.56,"y":16},{"t":2.57,"y":28},{"t":2.58,"y":8},{"t":2.59,"y":20},
      {"t":2.6,"y":41},{"t":2.61,"y":12},{"t":2.62,"y":20},{"t":2.63,"y":35},{"t":2.64,"y":45},{"t":2.65,"y":30},{"t":2.66,"y":45},{"t":2.67,"y":35},{"t":2.68,"y":40},{"t":2.69,"y":80},
      {"t":2.7,"y":260},{"t":2.71,"y":440},{"t":2.72,"y":615},{"t":2.73,"y":600},{"t":2.74,"y":340},{"t":2.75,"y":480},{"t":2.76,"y":240},{"t":2.77,"y":150},{"t":2.78,"y":34},{"t":2.79,"y":75},
      {"t":2.8,"y":60},{"t":2.81,"y":75},{"t":2.82,"y":50},{"t":2.83,"y":107},{"t":2.84,"y":55},{"t":2.85,"y":20},{"t":2.86,"y":42},{"t":2.87,"y":12},{"t":2.88,"y":40},{"t":2.89,"y":8},
      {"t":2.9,"y":41},{"t":2.91,"y":15},{"t":2.92,"y":5},{"t":2.93,"y":18},{"t":2.94,"y":28},{"t":2.95,"y":8},{"t":2.96,"y":3},{"t":2.97,"y":16},{"t":2.98,"y":14},{"t":2.99,"y":4},
      {"t":3,"y":6},{"t":3.01,"y":14},{"t":3.02,"y":18},{"t":3.03,"y":4},{"t":3.04,"y":2},{"t":3.05,"y":10},{"t":3.06,"y":12},{"t":3.07,"y":3},{"t":3.08,"y":20},{"t":3.09,"y":8},
      {"t":3.1,"y":4},{"t":3.11,"y":15},{"t":3.12,"y":10},{"t":3.13,"y":2},{"t":3.14,"y":16},{"t":3.15,"y":6},{"t":3.16,"y":3},{"t":3.17,"y":12},{"t":3.18,"y":14},{"t":3.19,"y":4},
      {"t":3.2,"y":8},{"t":3.21,"y":15},{"t":3.22,"y":20},{"t":3.23,"y":6},{"t":3.24,"y":2},{"t":3.25,"y":14},{"t":3.26,"y":12},{"t":3.27,"y":3},{"t":3.28,"y":6},{"t":3.29,"y":18},
      {"t":3.3,"y":15},{"t":3.31,"y":4},{"t":3.32,"y":0},{"t":3.33,"y":12},{"t":3.34,"y":22},{"t":3.35,"y":8},{"t":3.36,"y":28},{"t":3.37,"y":10},{"t":3.38,"y":5},{"t":3.39,"y":16},
      {"t":3.4,"y":12},{"t":3.41,"y":2},{"t":3.42,"y":3},{"t":3.43,"y":14},{"t":3.44,"y":18},{"t":3.45,"y":5},{"t":3.46,"y":7},{"t":3.47,"y":16},{"t":3.48,"y":14},{"t":3.49,"y":4},
      {"t":3.5,"y":2},{"t":3.51,"y":12},{"t":3.52,"y":20},{"t":3.53,"y":6},{"t":3.54,"y":9},{"t":3.55,"y":18},{"t":3.56,"y":4},{"t":3.57,"y":10},{"t":3.58,"y":15},{"t":3.59,"y":3},
      {"t":3.6,"y":6},{"t":3.61,"y":14},{"t":3.62,"y":16},{"t":3.63,"y":4},{"t":3.64,"y":2},{"t":3.65,"y":12},{"t":3.66,"y":12},{"t":3.67,"y":5},{"t":3.68,"y":20},{"t":3.69,"y":10},
      {"t":3.7,"y":5},{"t":3.71,"y":16},{"t":3.72,"y":14},{"t":3.73,"y":4},{"t":3.74,"y":22},{"t":3.75,"y":12},{"t":3.76,"y":8},{"t":3.77,"y":18},{"t":3.78,"y":28},{"t":3.79,"y":12},
      {"t":3.8,"y":35},{"t":3.81,"y":14},{"t":3.82,"y":10},{"t":3.83,"y":22},{"t":3.84,"y":18},{"t":3.85,"y":6},{"t":3.86,"y":3},{"t":3.87,"y":15},{"t":3.88,"y":22},{"t":3.89,"y":8},
      {"t":3.9,"y":14},{"t":3.91,"y":20},{"t":3.92,"y":28},{"t":3.93,"y":10},{"t":3.94,"y":6},{"t":3.95,"y":18},{"t":3.96,"y":16},{"t":3.97,"y":4},{"t":3.98,"y":4},{"t":3.99,"y":14},
      {"t":4,"y":12},{"t":4.01,"y":3},{"t":4.02,"y":20},{"t":4.03,"y":10},{"t":4.04,"y":2},{"t":4.05,"y":14},{"t":4.06,"y":15},{"t":4.07,"y":4},{"t":4.08,"y":8},{"t":4.09,"y":18},
      {"t":4.1,"y":18},{"t":4.11,"y":6},{"t":4.12,"y":3},{"t":4.13,"y":15},{"t":4.14,"y":12},{"t":4.15,"y":5},{"t":4.16,"y":22},{"t":4.17,"y":10},{"t":4.18,"y":6},{"t":4.19,"y":16},
      {"t":4.2,"y":14},{"t":4.21,"y":4},{"t":4.22,"y":2},{"t":4.23,"y":18},{"t":4.24,"y":48},{"t":4.25,"y":14},{"t":4.26,"y":10},{"t":4.27,"y":4},{"t":4.28,"y":18},{"t":4.29,"y":8},
      {"t":4.3,"y":5},{"t":4.31,"y":14},{"t":4.32,"y":20},{"t":4.33,"y":4},{"t":4.34,"y":8},{"t":4.35,"y":16},{"t":4.36,"y":14},{"t":4.37,"y":3},{"t":4.38,"y":3},{"t":4.39,"y":12},
      {"t":4.4,"y":16},{"t":4.41,"y":6},{"t":4.42,"y":22},{"t":4.43,"y":10},{"t":4.44,"y":6},{"t":4.45,"y":18},{"t":4.46,"y":12},{"t":4.47,"y":4},{"t":4.48,"y":28},{"t":4.49,"y":12},
      {"t":4.5,"y":4},{"t":4.51,"y":16},{"t":4.52,"y":18},{"t":4.53,"y":6},{"t":4.54,"y":10},{"t":4.55,"y":22},{"t":4.56,"y":20},{"t":4.57,"y":8},{"t":4.58,"y":14},{"t":4.59,"y":22},
      {"t":4.6,"y":20},{"t":4.61,"y":8},{"t":4.62,"y":41},{"t":4.63,"y":14},{"t":4.64,"y":8},{"t":4.65,"y":18},{"t":4.66,"y":22},{"t":4.67,"y":6},{"t":4.68,"y":15},{"t":4.69,"y":20},
      {"t":4.7,"y":5},{"t":4.71,"y":14},{"t":4.72,"y":28},{"t":4.73,"y":10},{"t":4.74,"y":18},{"t":4.75,"y":28},{"t":4.76,"y":41},{"t":4.77,"y":14},{"t":4.78,"y":12},{"t":4.79,"y":22},
      {"t":4.8,"y":20},{"t":4.81,"y":8},{"t":4.82,"y":41},{"t":4.83,"y":16},{"t":4.84,"y":6},{"t":4.85,"y":18},{"t":4.86,"y":28},{"t":4.87,"y":10},{"t":4.88,"y":14},{"t":4.89,"y":20},
      {"t":4.9,"y":3},{"t":4.91,"y":12},{"t":4.92,"y":18},{"t":4.93,"y":6},{"t":4.94,"y":10},{"t":4.95,"y":16},{"t":4.96,"y":22},{"t":4.97,"y":8},{"t":4.98,"y":5},{"t":4.99,"y":14},
      {"t":5,"y":15},{"t":5.01,"y":4},{"t":5.02,"y":8},{"t":5.03,"y":16},{"t":5.04,"y":20},{"t":5.05,"y":6},{"t":5.06,"y":2},{"t":5.07,"y":12},{"t":5.08,"y":14},{"t":5.09,"y":4},
      {"t":5.1,"y":18},{"t":5.11,"y":10},{"t":5.12,"y":4},{"t":5.13,"y":16},{"t":5.14,"y":12},{"t":5.15,"y":3},{"t":5.16,"y":16},{"t":5.17,"y":8},{"t":5.18,"y":3},{"t":5.19,"y":14},
      {"t":5.2,"y":20},{"t":5.21,"y":6},{"t":5.22,"y":10},{"t":5.23,"y":18},{"t":5.24,"y":6},{"t":5.25,"y":2},{"t":5.26,"y":16},{"t":5.27,"y":10},{"t":5.28,"y":2},{"t":5.29,"y":12},
      {"t":5.3,"y":14},{"t":5.31,"y":5},{"t":5.32,"y":22},{"t":5.33,"y":10},{"t":5.34,"y":5},{"t":5.35,"y":16},{"t":5.36,"y":12},{"t":5.37,"y":3},{"t":5.38,"y":8},{"t":5.39,"y":14},
      {"t":5.4,"y":18},{"t":5.41,"y":10},{"t":5.42,"y":35},{"t":5.43,"y":12},{"t":5.44,"y":3},{"t":5.45,"y":16},{"t":5.46,"y":14},{"t":5.47,"y":4},{"t":5.48,"y":10},{"t":5.49,"y":18},
      {"t":5.5,"y":20},{"t":5.51,"y":6},{"t":5.52,"y":2},{"t":5.53,"y":14},{"t":5.54,"y":12},{"t":5.55,"y":4},{"t":5.56,"y":6},{"t":5.57,"y":16},{"t":5.58,"y":15},{"t":5.59,"y":6},
      {"t":5.6,"y":28},{"t":5.61,"y":12},{"t":5.62,"y":4},{"t":5.63,"y":14},{"t":5.64,"y":16},{"t":5.65,"y":5},{"t":5.66,"y":10},{"t":5.67,"y":18},{"t":5.68,"y":20},{"t":5.69,"y":8},
      {"t":5.7,"y":3},{"t":5.71,"y":12},{"t":5.72,"y":14},{"t":5.73,"y":4},{"t":5.74,"y":8},{"t":5.75,"y":18},{"t":5.76,"y":22},{"t":5.77,"y":6},{"t":5.78,"y":12},{"t":5.79,"y":16},
      {"t":5.8,"y":5},{"t":5.81,"y":12},{"t":5.82,"y":18},{"t":5.83,"y":6},{"t":5.84,"y":10},{"t":5.85,"y":20},{"t":5.86,"y":15},{"t":5.87,"y":4},{"t":5.88,"y":2},{"t":5.89,"y":14},
      {"t":5.9,"y":20},{"t":5.91,"y":10},{"t":5.92,"y":8},{"t":5.93,"y":16},{"t":5.94,"y":14},{"t":5.95,"y":3},{"t":5.96,"y":4},{"t":5.97,"y":18},{"t":5.98,"y":35},{"t":5.99,"y":14},
      {"t":6,"y":12},{"t":6.01,"y":5},{"t":6.02,"y":20},{"t":6.03,"y":10},{"t":6.04,"y":6},{"t":6.05,"y":18},{"t":6.06,"y":16},{"t":6.07,"y":4},{"t":6.08,"y":2},{"t":6.09,"y":12},
      {"t":6.1,"y":14},{"t":6.11,"y":6},{"t":6.12,"y":10},{"t":6.13,"y":18},{"t":6.14,"y":22},{"t":6.15,"y":8},{"t":6.16,"y":4},{"t":6.17,"y":14},{"t":6.18,"y":15},{"t":6.19,"y":5},
      {"t":6.2,"y":8},{"t":6.21,"y":16},{"t":6.22,"y":18},{"t":6.23,"y":6},{"t":6.24,"y":3},{"t":6.25,"y":14},{"t":6.26,"y":12},{"t":6.27,"y":4},{"t":6.28,"y":20},{"t":6.29,"y":10},
      {"t":6.3,"y":5},{"t":6.31,"y":18},{"t":6.32,"y":16},{"t":6.33,"y":6},{"t":6.34,"y":10},{"t":6.35,"y":20},{"t":6.36,"y":22},{"t":6.37,"y":12},{"t":6.38,"y":35},{"t":6.39,"y":16},
      {"t":6.4,"y":14},{"t":6.41,"y":6},{"t":6.42,"y":28},{"t":6.43,"y":12},{"t":6.44,"y":6},{"t":6.45,"y":18},{"t":6.46,"y":20},{"t":6.47,"y":8},{"t":6.48,"y":12},{"t":6.49,"y":18},
      {"t":6.5,"y":4},{"t":6.51,"y":14},{"t":6.52,"y":28},{"t":6.53,"y":10},{"t":6.54,"y":16},{"t":6.55,"y":6},{"t":6.56,"y":8},{"t":6.57,"y":20},{"t":6.58,"y":18},{"t":6.59,"y":6},
      {"t":6.6,"y":3},{"t":6.61,"y":12},{"t":6.62,"y":14},{"t":6.63,"y":4},{"t":6.64,"y":22},{"t":6.65,"y":14},{"t":6.66,"y":10},{"t":6.67,"y":18},{"t":6.68,"y":16},{"t":6.69,"y":4},
      {"t":6.7,"y":5},{"t":6.71,"y":15},{"t":6.72,"y":20},{"t":6.73,"y":6},{"t":6.74,"y":8},{"t":6.75,"y":16},{"t":6.76,"y":12},{"t":6.77,"y":4},{"t":6.78,"y":18},{"t":6.79,"y":12},
      {"t":6.8,"y":35},{"t":6.81,"y":14},{"t":6.82,"y":10},{"t":6.83,"y":20},{"t":6.84,"y":28},{"t":6.85,"y":10},{"t":6.86,"y":6},{"t":6.87,"y":16},{"t":6.88,"y":18},{"t":6.89,"y":4},
      {"t":6.9,"y":12},{"t":6.91,"y":18},{"t":6.92,"y":4},{"t":6.93,"y":12},{"t":6.94,"y":20},{"t":6.95,"y":6},{"t":6.96,"y":15},{"t":6.97,"y":10},{"t":6.98,"y":8},{"t":6.99,"y":16},
      {"t":7,"y":14}
    ],
    "b2": [
      {"t":0,"y":0},{"t":0.5,"y":0},{"t":1,"y":0},{"t":1.5,"y":0},{"t":2,"y":0},{"t":2.3,"y":0},{"t":2.44,"y":0},{"t":2.46,"y":400},{"t":2.48,"y":4000},{"t":2.5,"y":14000},
      {"t":2.52,"y":19400},{"t":2.54,"y":16000},{"t":2.56,"y":7000},{"t":2.58,"y":1800},{"t":2.6,"y":400},{"t":2.62,"y":180},{"t":2.65,"y":120},{"t":2.7,"y":90},{"t":2.8,"y":70},{"t":3,"y":50},
      {"t":3.5,"y":35},{"t":4,"y":30},{"t":4.5,"y":25},{"t":5,"y":22},{"t":5.5,"y":20},{"t":6,"y":20},{"t":6.4,"y":40},{"t":6.6,"y":25},{"t":7,"y":20}
    ]
  },
  "vconcat": [
    {
      "title": {"text": "A", "orient": "left", "angle": 0, "anchor": "middle", "frame": "group", "fontSize": 80, "offset": 62, "dy": 307},
      "bounds": "flush",
      "spacing": 319,
      "hconcat": [
        {
          "width": 1346,
          "height": 944,
          "title": {"text": "Desoxo-narchinol A", "dx": -20},
          "data": {"name": "a1"},
          "mark": {"type": "line", "color": "#0000FF", "strokeWidth": 6},
          "encoding": {
            "x": {"field": "t", "type": "quantitative", "scale": {"domain": [0, 7], "nice": false},
              "axis": {"title": "Time, min", "values": [0,0.5,1,1.5,2,2.5,3,3.5,4,4.5,5,5.5,6,6.5,7], "labelExpr": "datum.value % 1 === 0 ? datum.label : ''"}},
            "y": {"field": "y", "type": "quantitative", "scale": {"domain": [0, 100], "nice": false},
              "axis": {"title": "Intensity, cps", "values": [0,20,40,60,80,100]}}
          }
        },
        {
          "width": 1348,
          "height": 944,
          "title": {"text": "Sildenafil (IS)", "dx": 28},
          "data": {"name": "a2"},
          "mark": {"type": "line", "color": "#0000FF", "strokeWidth": 5},
          "encoding": {
            "x": {"field": "t", "type": "quantitative", "scale": {"domain": [0, 7], "nice": false},
              "axis": {"title": "Time, min", "values": [0,0.5,1,1.5,2,2.5,3,3.5,4,4.5,5,5.5,6,6.5,7], "labelExpr": "datum.value % 1 === 0 ? datum.label : ''"}},
            "y": {"field": "y", "type": "quantitative", "scale": {"domain": [0, 35], "nice": false},
              "axis": {"title": "Intensity, cps", "values": [0,5,10,15,20,25,30,35]}}
          }
        }
      ]
    },
    {
      "title": {"text": "B", "orient": "left", "angle": 0, "anchor": "middle", "frame": "group", "fontSize": 80, "offset": 62, "dy": 390},
      "bounds": "flush",
      "spacing": 333,
      "hconcat": [
        {
          "width": 1352,
          "height": 939,
          "encoding": {
            "x": {"field": "t", "type": "quantitative", "scale": {"domain": [0, 7], "nice": false},
              "axis": {"title": "Time, min", "values": [0,0.5,1,1.5,2,2.5,3,3.5,4,4.5,5,5.5,6,6.5,7], "labelExpr": "datum.value % 1 === 0 ? datum.label : ''"}},
            "y": {"field": "y", "type": "quantitative", "scale": {"domain": [0, 700], "nice": false},
              "axis": {"title": "Intensity, cps", "values": [0,100,200,300,400,500,600,700]}}
          },
          "layer": [
            {"data": {"name": "b1"}, "mark": {"type": "line", "color": "#0000FF", "strokeWidth": 6}},
            {
              "data": {"values": [{"t": 2.73, "y": 615, "label": "2.73"}]},
              "mark": {"type": "text", "font": "Liberation Serif", "fontWeight": "bold", "fontSize": 86, "color": "black", "align": "center", "baseline": "alphabetic", "dx": 10, "dy": -27},
              "encoding": {"text": {"field": "label"}}
            }
          ]
        },
        {
          "width": 1349,
          "height": 939,
          "encoding": {
            "x": {"field": "t", "type": "quantitative", "scale": {"domain": [0, 7], "nice": false},
              "axis": {"title": "Time, min", "values": [0,0.5,1,1.5,2,2.5,3,3.5,4,4.5,5,5.5,6,6.5,7], "labelExpr": "datum.value % 1 === 0 ? datum.label : ''"}},
            "y": {"field": "y", "type": "quantitative", "scale": {"domain": [0, 25000], "nice": false},
              "axis": {"title": "Intensity, cps", "format": "d", "values": [0,5000,10000,15000,20000,25000]}}
          },
          "layer": [
            {"data": {"name": "b2"}, "mark": {"type": "line", "color": "#0000FF", "strokeWidth": 5.5}},
            {
              "data": {"values": [{"t": 2.53, "y": 19400, "label": "2.53"}]},
              "mark": {"type": "text", "font": "Liberation Serif", "fontWeight": "bold", "fontSize": 86, "color": "black", "align": "center", "baseline": "alphabetic", "dx": 30, "dy": -48},
              "encoding": {"text": {"field": "label"}}
            }
          ]
        }
      ]
    }
  ],
  "spacing": 1400,
  "bounds": "flush"
}
